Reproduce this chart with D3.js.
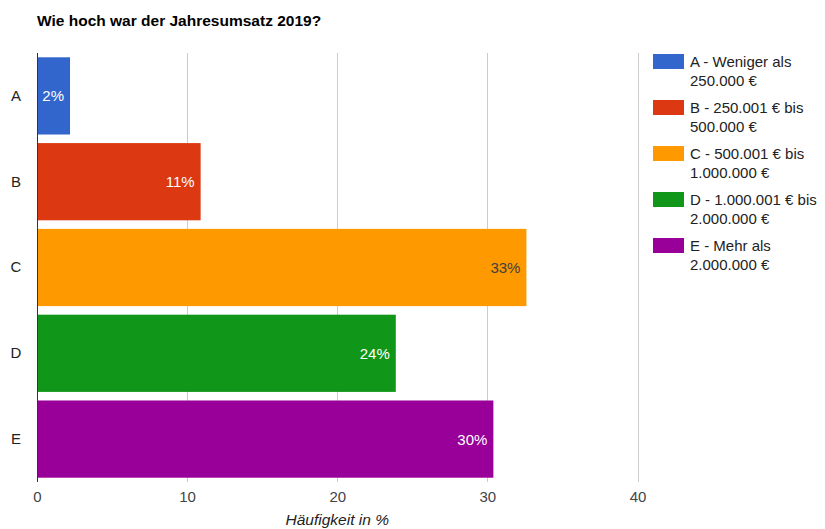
<!DOCTYPE html>
<html>
<head>
<meta charset="utf-8">
<script src="https://cdn.jsdelivr.net/npm/d3@7"></script>
<style>
  html, body { margin: 0; padding: 0; background: #fff; }
  svg { display: block; font-family: Arial, "Liberation Sans", sans-serif; }
</style>
</head>
<body>
<svg id="chart" width="825" height="529"></svg>
<script>
// Survey answers: annual turnover 2019, share of respondents in %
const categories = ["A", "B", "C", "D", "E"];
const shares = [2.2, 10.9, 32.6, 23.9, 30.4];
const legendLabels = [
  ["A - Weniger als", "250.000 €"],
  ["B - 250.001 € bis", "500.000 €"],
  ["C - 500.001 € bis", "1.000.000 €"],
  ["D - 1.000.001 € bis", "2.000.000 €"],
  ["E - Mehr als", "2.000.000 €"]
];
const xTicks = [0, 10, 20, 30, 40];
const colors = ["#3366cc", "#dc3912", "#ff9900", "#109618", "#990099"];
const labelColors = ["#ffffff", "#ffffff", "#404040", "#ffffff", "#ffffff"];

const svg = d3.select("#chart");
const plot = { left: 37, right: 637.5, top: 53, bottom: 482 };
const fontFamily = "Arial, 'Liberation Sans', sans-serif";

const x = d3.scaleLinear().domain([0, 40]).range([plot.left, plot.right]);
const y = d3.scaleBand().domain(categories)
  .range([plot.top, plot.bottom]).paddingInner(0.1).paddingOuter(0.05);

// Title
svg.append("text")
  .attr("x", 37).attr("y", 26)
  .attr("font-size", 15.5).attr("font-weight", "bold").attr("fill", "#000")
  .text("Wie hoch war der Jahresumsatz 2019?");

// Vertical gridlines
svg.append("g").selectAll("line")
  .data(xTicks.filter(t => t > 0))
  .join("line")
  .attr("x1", d => Math.round(x(d)) + 0.5).attr("x2", d => Math.round(x(d)) + 0.5)
  .attr("y1", plot.top).attr("y2", plot.bottom)
  .attr("stroke", "#cccccc").attr("stroke-width", 1);

// Bars
const rows = categories.map((c, i) => ({ c, v: shares[i], i }));
svg.append("g").selectAll("rect")
  .data(rows)
  .join("rect")
  .attr("x", x(0))
  .attr("y", d => y(d.c))
  .attr("width", d => x(d.v) - x(0))
  .attr("height", y.bandwidth())
  .attr("fill", d => colors[d.i]);

// Value labels inside bar ends
svg.append("g").selectAll("text")
  .data(rows)
  .join("text")
  .attr("x", d => x(d.v) - 6)
  .attr("y", d => y(d.c) + y.bandwidth() / 2 + 5.5)
  .attr("text-anchor", "end")
  .attr("font-size", 15)
  .attr("fill", d => labelColors[d.i])
  .text(d => Math.round(d.v) + "%");

// Baseline at zero
svg.append("line")
  .attr("x1", x(0) + 0.5).attr("x2", x(0) + 0.5)
  .attr("y1", plot.top).attr("y2", plot.bottom)
  .attr("stroke", "#333333").attr("stroke-width", 1);

// Category axis
const yAxis = svg.append("g")
  .attr("transform", `translate(${plot.left - 21},0)`)
  .call(d3.axisLeft(y).tickSize(0).tickPadding(0));
yAxis.select(".domain").remove();
yAxis.selectAll("text")
  .attr("font-size", 15).attr("fill", "#222222")
  .attr("font-family", fontFamily)
  .attr("text-anchor", "middle");

// Value axis
const xAxis = svg.append("g")
  .attr("transform", `translate(0,${plot.bottom})`)
  .call(d3.axisBottom(x).tickValues(xTicks).tickSize(0).tickPadding(9).tickFormat(d3.format("d")));
xAxis.select(".domain").remove();
xAxis.selectAll("text")
  .attr("font-size", 15).attr("fill", "#444444")
  .attr("font-family", fontFamily);

// Axis title
svg.append("text")
  .attr("x", (plot.left + plot.right) / 2).attr("y", 525)
  .attr("text-anchor", "middle")
  .attr("font-size", 15.5).attr("font-style", "italic").attr("fill", "#222222")
  .text("Häufigkeit in %");

// Legend
const legend = svg.append("g").selectAll("g")
  .data(legendLabels)
  .join("g")
  .attr("transform", (d, i) => `translate(653,${54 + i * 46})`);
legend.append("rect")
  .attr("width", 31).attr("height", 15)
  .attr("fill", (d, i) => colors[i]);
legend.append("text")
  .attr("x", 37).attr("y", 13)
  .attr("font-size", 15).attr("fill", "#222222")
  .selectAll("tspan")
  .data(d => d)
  .join("tspan")
  .attr("x", 37)
  .attr("dy", (d, j) => j === 0 ? 0 : 19)
  .text(d => d);
</script>
</body>
</html>
